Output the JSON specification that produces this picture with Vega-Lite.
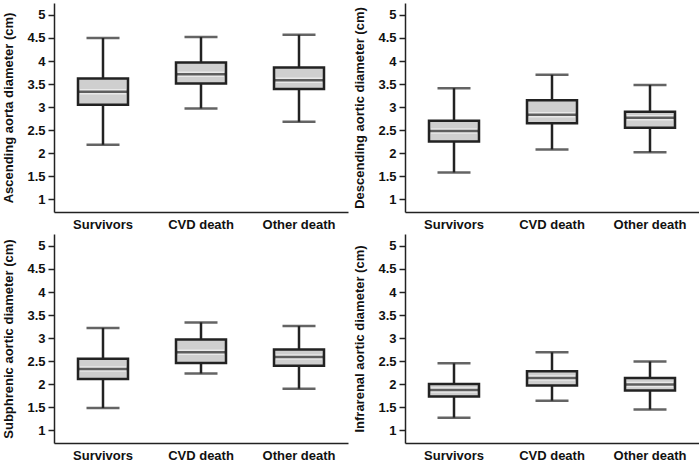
{
  "$schema": "https://vega.github.io/schema/vega-lite/v6.json",
  "padding": {"left": 2, "top": 3, "right": 0, "bottom": 0},
  "background": "white",
  "datasets": {
    "boxes": [
      {"panel": "A", "group": "Survivors", "min": 2.18, "q1": 3.05, "median": 3.33, "q3": 3.62, "max": 4.50},
      {"panel": "A", "group": "CVD death", "min": 2.97, "q1": 3.51, "median": 3.71, "q3": 3.97, "max": 4.52},
      {"panel": "A", "group": "Other death", "min": 2.68, "q1": 3.39, "median": 3.58, "q3": 3.86, "max": 4.57},
      {"panel": "B", "group": "Survivors", "min": 1.58, "q1": 2.25, "median": 2.48, "q3": 2.70, "max": 3.41},
      {"panel": "B", "group": "CVD death", "min": 2.08, "q1": 2.65, "median": 2.83, "q3": 3.15, "max": 3.70},
      {"panel": "B", "group": "Other death", "min": 2.02, "q1": 2.55, "median": 2.77, "q3": 2.90, "max": 3.48},
      {"panel": "C", "group": "Survivors", "min": 1.48, "q1": 2.11, "median": 2.33, "q3": 2.55, "max": 3.22},
      {"panel": "C", "group": "CVD death", "min": 2.23, "q1": 2.46, "median": 2.69, "q3": 2.97, "max": 3.34},
      {"panel": "C", "group": "Other death", "min": 1.90, "q1": 2.40, "median": 2.59, "q3": 2.75, "max": 3.26},
      {"panel": "D", "group": "Survivors", "min": 1.27, "q1": 1.73, "median": 1.87, "q3": 2.00, "max": 2.45},
      {"panel": "D", "group": "CVD death", "min": 1.64, "q1": 1.97, "median": 2.13, "q3": 2.28, "max": 2.69},
      {"panel": "D", "group": "Other death", "min": 1.45, "q1": 1.86, "median": 1.99, "q3": 2.13, "max": 2.49}
    ]
  },
  "config": {
    "view": {"stroke": null},
    "font": "Liberation Sans",
    "axis": {
      "grid": false,
      "domainColor": "#222",
      "domainWidth": 1.5,
      "tickColor": "#222",
      "tickWidth": 1.5,
      "labelFont": "Liberation Sans",
      "labelFontWeight": "bold",
      "labelFontSize": 13,
      "labelColor": "#111",
      "titleFont": "Liberation Sans",
      "titleFontWeight": "bold",
      "titleFontSize": 13,
      "titleColor": "#111"
    },
    "axisX": {"ticks": false, "labelAngle": 0, "labelPadding": 6, "title": null},
    "axisY": {"tickSize": 6, "labelPadding": 3, "titlePadding": 11, "labelOverlap": false, "tickCount": 9}
  },
  "spacing": 3,
  "vconcat": [
    {
      "spacing": 5,
      "hconcat": [
        {
          "width": 294, "height": 209,
          "data": {"name": "boxes"},
          "transform": [{"filter": "datum.panel == 'A'"}],
          "encoding": {"x": {"field": "group", "type": "nominal", "sort": ["Survivors", "CVD death", "Other death"], "scale": {"paddingInner": 0, "paddingOuter": 0}, "axis": {"title": null}}},
          "layer": [
            {"mark": {"type": "rule", "color": "#222", "strokeWidth": 2.5}, "encoding": {"y": {"field": "min", "type": "quantitative", "scale": {"domain": [0.72, 5.26], "nice": false, "zero": false}, "axis": {"title": "Ascending aorta diameter (cm)", "values": [1, 1.5, 2, 2.5, 3, 3.5, 4, 4.5, 5], "format": "~g"}}, "y2": {"field": "max"}}},
            {"mark": {"type": "tick", "color": "#222", "size": 33, "thickness": 2.5}, "encoding": {"y": {"field": "min", "type": "quantitative", "axis": {"title": "Ascending aorta diameter (cm)", "values": [1, 1.5, 2, 2.5, 3, 3.5, 4, 4.5, 5], "format": "~g"}}}},
            {"mark": {"type": "tick", "color": "#222", "size": 33, "thickness": 2.5}, "encoding": {"y": {"field": "max", "type": "quantitative", "axis": {"title": "Ascending aorta diameter (cm)", "values": [1, 1.5, 2, 2.5, 3, 3.5, 4, 4.5, 5], "format": "~g"}}}},
            {"mark": {"type": "bar", "size": 50, "fill": "#cfcfcf", "stroke": "#222", "strokeWidth": 2.5}, "encoding": {"y": {"field": "q1", "type": "quantitative", "axis": {"title": "Ascending aorta diameter (cm)", "values": [1, 1.5, 2, 2.5, 3, 3.5, 4, 4.5, 5], "format": "~g"}}, "y2": {"field": "q3"}}},
            {"mark": {"type": "tick", "color": "#f4f4f4", "size": 46, "thickness": 5.5}, "encoding": {"y": {"field": "median", "type": "quantitative", "axis": {"title": "Ascending aorta diameter (cm)", "values": [1, 1.5, 2, 2.5, 3, 3.5, 4, 4.5, 5], "format": "~g"}}}},
            {"mark": {"type": "tick", "color": "#222", "size": 50, "thickness": 2.5}, "encoding": {"y": {"field": "median", "type": "quantitative", "axis": {"title": "Ascending aorta diameter (cm)", "values": [1, 1.5, 2, 2.5, 3, 3.5, 4, 4.5, 5], "format": "~g"}}}}
          ]
        },
        {
          "width": 294, "height": 209,
          "data": {"name": "boxes"},
          "transform": [{"filter": "datum.panel == 'B'"}],
          "encoding": {"x": {"field": "group", "type": "nominal", "sort": ["Survivors", "CVD death", "Other death"], "scale": {"paddingInner": 0, "paddingOuter": 0}, "axis": {"title": null}}},
          "layer": [
            {"mark": {"type": "rule", "color": "#222", "strokeWidth": 2.5}, "encoding": {"y": {"field": "min", "type": "quantitative", "scale": {"domain": [0.72, 5.26], "nice": false, "zero": false}, "axis": {"title": "Descending aortic diameter (cm)", "values": [1, 1.5, 2, 2.5, 3, 3.5, 4, 4.5, 5], "format": "~g"}}, "y2": {"field": "max"}}},
            {"mark": {"type": "tick", "color": "#222", "size": 33, "thickness": 2.5}, "encoding": {"y": {"field": "min", "type": "quantitative", "axis": {"title": "Descending aortic diameter (cm)", "values": [1, 1.5, 2, 2.5, 3, 3.5, 4, 4.5, 5], "format": "~g"}}}},
            {"mark": {"type": "tick", "color": "#222", "size": 33, "thickness": 2.5}, "encoding": {"y": {"field": "max", "type": "quantitative", "axis": {"title": "Descending aortic diameter (cm)", "values": [1, 1.5, 2, 2.5, 3, 3.5, 4, 4.5, 5], "format": "~g"}}}},
            {"mark": {"type": "bar", "size": 50, "fill": "#cfcfcf", "stroke": "#222", "strokeWidth": 2.5}, "encoding": {"y": {"field": "q1", "type": "quantitative", "axis": {"title": "Descending aortic diameter (cm)", "values": [1, 1.5, 2, 2.5, 3, 3.5, 4, 4.5, 5], "format": "~g"}}, "y2": {"field": "q3"}}},
            {"mark": {"type": "tick", "color": "#f4f4f4", "size": 46, "thickness": 5.5}, "encoding": {"y": {"field": "median", "type": "quantitative", "axis": {"title": "Descending aortic diameter (cm)", "values": [1, 1.5, 2, 2.5, 3, 3.5, 4, 4.5, 5], "format": "~g"}}}},
            {"mark": {"type": "tick", "color": "#222", "size": 50, "thickness": 2.5}, "encoding": {"y": {"field": "median", "type": "quantitative", "axis": {"title": "Descending aortic diameter (cm)", "values": [1, 1.5, 2, 2.5, 3, 3.5, 4, 4.5, 5], "format": "~g"}}}}
          ]
        }
      ]
    },
    {
      "spacing": 5,
      "hconcat": [
        {
          "width": 294, "height": 209,
          "data": {"name": "boxes"},
          "transform": [{"filter": "datum.panel == 'C'"}],
          "encoding": {"x": {"field": "group", "type": "nominal", "sort": ["Survivors", "CVD death", "Other death"], "scale": {"paddingInner": 0, "paddingOuter": 0}, "axis": {"title": null}}},
          "layer": [
            {"mark": {"type": "rule", "color": "#222", "strokeWidth": 2.5}, "encoding": {"y": {"field": "min", "type": "quantitative", "scale": {"domain": [0.72, 5.26], "nice": false, "zero": false}, "axis": {"title": "Subphrenic aortic diameter (cm)", "values": [1, 1.5, 2, 2.5, 3, 3.5, 4, 4.5, 5], "format": "~g"}}, "y2": {"field": "max"}}},
            {"mark": {"type": "tick", "color": "#222", "size": 33, "thickness": 2.5}, "encoding": {"y": {"field": "min", "type": "quantitative", "axis": {"title": "Subphrenic aortic diameter (cm)", "values": [1, 1.5, 2, 2.5, 3, 3.5, 4, 4.5, 5], "format": "~g"}}}},
            {"mark": {"type": "tick", "color": "#222", "size": 33, "thickness": 2.5}, "encoding": {"y": {"field": "max", "type": "quantitative", "axis": {"title": "Subphrenic aortic diameter (cm)", "values": [1, 1.5, 2, 2.5, 3, 3.5, 4, 4.5, 5], "format": "~g"}}}},
            {"mark": {"type": "bar", "size": 50, "fill": "#cfcfcf", "stroke": "#222", "strokeWidth": 2.5}, "encoding": {"y": {"field": "q1", "type": "quantitative", "axis": {"title": "Subphrenic aortic diameter (cm)", "values": [1, 1.5, 2, 2.5, 3, 3.5, 4, 4.5, 5], "format": "~g"}}, "y2": {"field": "q3"}}},
            {"mark": {"type": "tick", "color": "#f4f4f4", "size": 46, "thickness": 5.5}, "encoding": {"y": {"field": "median", "type": "quantitative", "axis": {"title": "Subphrenic aortic diameter (cm)", "values": [1, 1.5, 2, 2.5, 3, 3.5, 4, 4.5, 5], "format": "~g"}}}},
            {"mark": {"type": "tick", "color": "#222", "size": 50, "thickness": 2.5}, "encoding": {"y": {"field": "median", "type": "quantitative", "axis": {"title": "Subphrenic aortic diameter (cm)", "values": [1, 1.5, 2, 2.5, 3, 3.5, 4, 4.5, 5], "format": "~g"}}}}
          ]
        },
        {
          "width": 294, "height": 209,
          "data": {"name": "boxes"},
          "transform": [{"filter": "datum.panel == 'D'"}],
          "encoding": {"x": {"field": "group", "type": "nominal", "sort": ["Survivors", "CVD death", "Other death"], "scale": {"paddingInner": 0, "paddingOuter": 0}, "axis": {"title": null}}},
          "layer": [
            {"mark": {"type": "rule", "color": "#222", "strokeWidth": 2.5}, "encoding": {"y": {"field": "min", "type": "quantitative", "scale": {"domain": [0.72, 5.26], "nice": false, "zero": false}, "axis": {"title": "Infrarenal aortic diameter (cm)", "values": [1, 1.5, 2, 2.5, 3, 3.5, 4, 4.5, 5], "format": "~g"}}, "y2": {"field": "max"}}},
            {"mark": {"type": "tick", "color": "#222", "size": 33, "thickness": 2.5}, "encoding": {"y": {"field": "min", "type": "quantitative", "axis": {"title": "Infrarenal aortic diameter (cm)", "values": [1, 1.5, 2, 2.5, 3, 3.5, 4, 4.5, 5], "format": "~g"}}}},
            {"mark": {"type": "tick", "color": "#222", "size": 33, "thickness": 2.5}, "encoding": {"y": {"field": "max", "type": "quantitative", "axis": {"title": "Infrarenal aortic diameter (cm)", "values": [1, 1.5, 2, 2.5, 3, 3.5, 4, 4.5, 5], "format": "~g"}}}},
            {"mark": {"type": "bar", "size": 50, "fill": "#cfcfcf", "stroke": "#222", "strokeWidth": 2.5}, "encoding": {"y": {"field": "q1", "type": "quantitative", "axis": {"title": "Infrarenal aortic diameter (cm)", "values": [1, 1.5, 2, 2.5, 3, 3.5, 4, 4.5, 5], "format": "~g"}}, "y2": {"field": "q3"}}},
            {"mark": {"type": "tick", "color": "#f4f4f4", "size": 46, "thickness": 5.5}, "encoding": {"y": {"field": "median", "type": "quantitative", "axis": {"title": "Infrarenal aortic diameter (cm)", "values": [1, 1.5, 2, 2.5, 3, 3.5, 4, 4.5, 5], "format": "~g"}}}},
            {"mark": {"type": "tick", "color": "#222", "size": 50, "thickness": 2.5}, "encoding": {"y": {"field": "median", "type": "quantitative", "axis": {"title": "Infrarenal aortic diameter (cm)", "values": [1, 1.5, 2, 2.5, 3, 3.5, 4, 4.5, 5], "format": "~g"}}}}
          ]
        }
      ]
    }
  ]
}
